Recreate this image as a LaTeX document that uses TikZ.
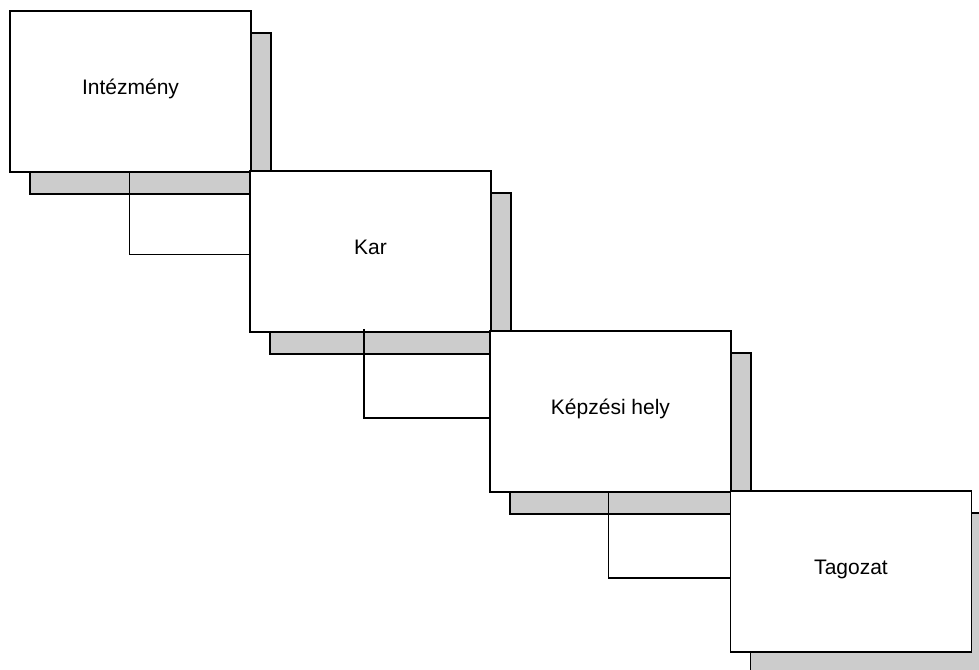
\documentclass[tikz,border=0pt]{standalone}
\usepackage{fontspec}
\setmainfont{Liberation Sans}
\usetikzlibrary{shadows}

\begin{document}
\begin{tikzpicture}[x=0.75pt,y=0.75pt,yscale=-1,xscale=1,
	entity/.style={draw, fill=white, line width=1.4pt, minimum width=180.75pt, minimum height=120.75pt, inner sep=0pt, text height=12pt, text depth=7.5pt, font=\fontsize{15.75}{19}\selectfont,
		drop shadow={shadow xshift=15pt, shadow yshift=-16.5pt, opacity=1, fill={rgb, 255:red, 204; green, 204; blue, 204}, draw=black, line width=1.4pt}},
	link/.style={line width=1.2pt}]
		\useasboundingbox (0,0) rectangle (979,669);
		\node [entity] (intezmeny) at (130.5,91.5) {Intézmény};
		\node [entity] (kar) at (370.5,251.5) {Kar};
		\node [entity] (kepzesihely) at (610.5,411.5) {Képzési hely};
		\node [entity] (tagozat) at (851,571.5) {Tagozat};
		\draw [link] ([xshift=-0.75pt]intezmeny.south) |- ([yshift=2.25pt]kar.west);
		\draw [link] ([xshift=-5pt,yshift=-3pt]kar.south) |- ([yshift=5pt]kepzesihely.west);
		\draw [link] ([xshift=-1.5pt]kepzesihely.south) |- ([yshift=5pt]tagozat.west);
\end{tikzpicture}
\end{document}
